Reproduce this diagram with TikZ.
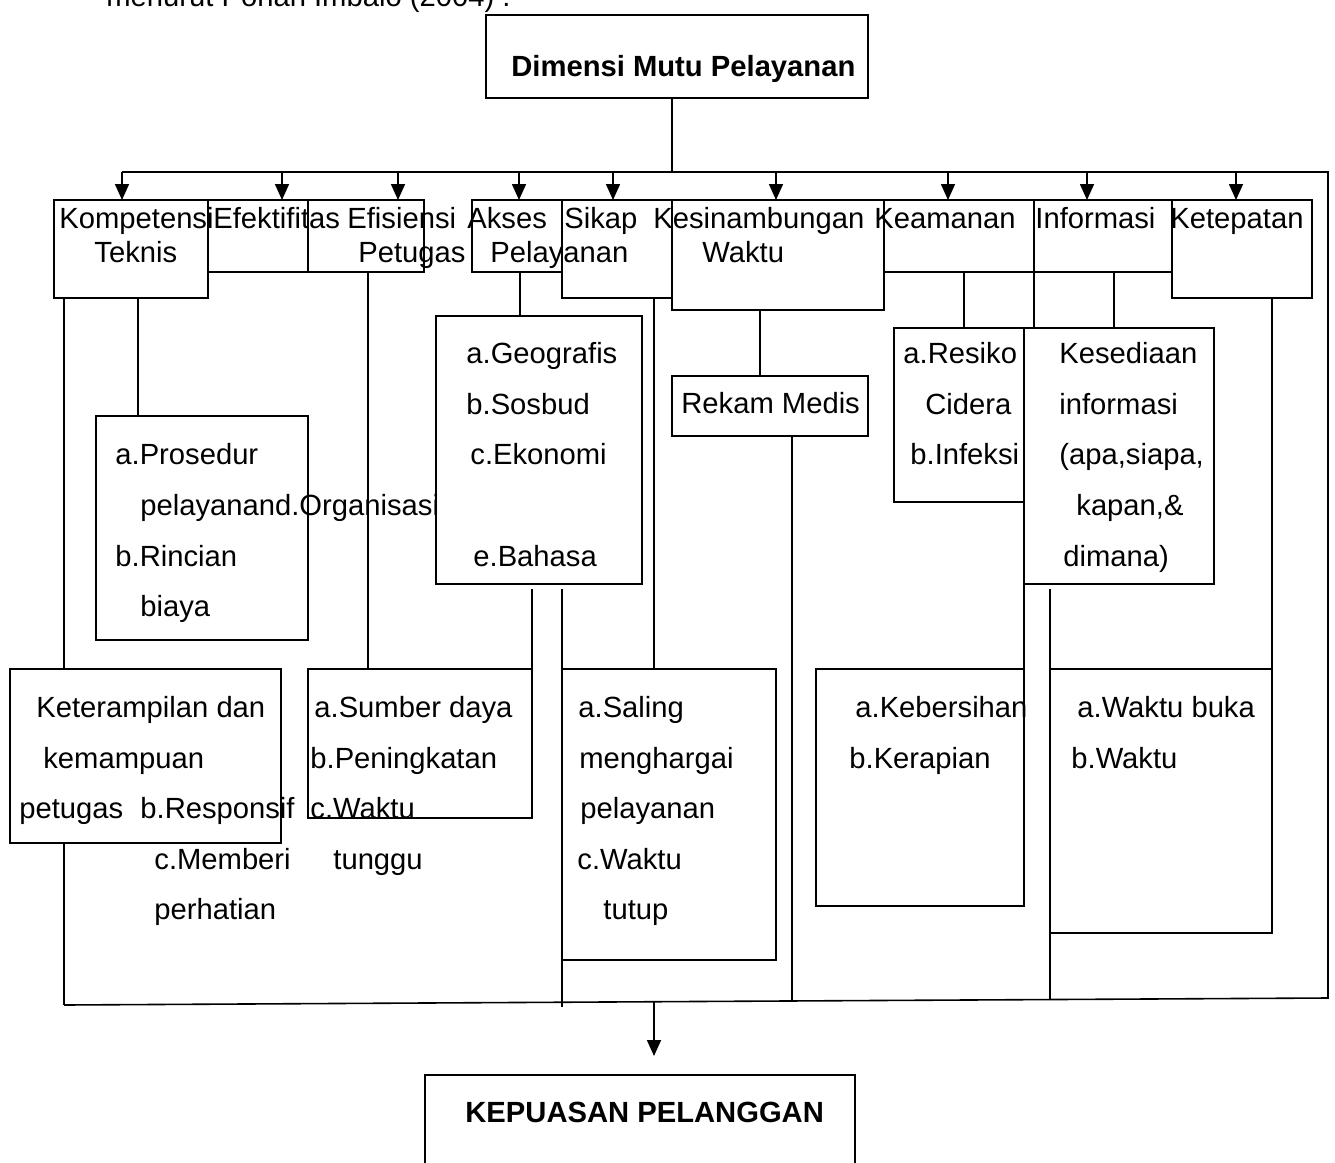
\documentclass[tikz,border=0pt]{standalone}
\usepackage{fontspec}
\setmainfont{Liberation Sans}
\usetikzlibrary{arrows.meta}
\usetikzlibrary{fit}
\tikzset{%
  mybox/.style={draw=black, line width=1pt, inner sep=0pt, outer sep=0pt},
  myedge/.style={->, line width=0.8pt, >={Triangle[length=8pt, width=7pt]}},
  myline/.style={line width=0.8pt},
  mytext/.style={inner sep=0pt, anchor=base west, font=\fontsize{14.6}{17}\selectfont},
  mybold/.style={mytext, font=\fontsize{14.6}{17}\selectfont\bfseries}
}

\begin{document}
\begin{tikzpicture}[x=0.5pt, y=-0.5pt]
\useasboundingbox (0,0) rectangle (1335,1163);

% kotak
\node [mybox, fit={(486,15) (868,98)}] (dimensi) {};
\node [mybox, fit={(54,200) (208,298)}] (kom) {};
\node [mybox, fit={(208,200) (308,272)}] (efek) {};
\node [mybox, fit={(308,200) (424,272)}] (efis) {};
\node [mybox, fit={(472,200) (562,272)}] (akses) {};
\node [mybox, fit={(562,200) (672,298)}] (sikap) {};
\node [mybox, fit={(672,200) (884,310)}] (kesi) {};
\node [mybox, fit={(884,200) (1034,272)}] (keam) {};
\node [mybox, fit={(1034,200) (1172,272)}] (info) {};
\node [mybox, fit={(1172,200) (1312,298)}] (kete) {};

\node [mybox, fit={(96,416) (308,640)}] (proc) {};
\node [mybox, fit={(436,316) (642,584)}] (geo) {};
\node [mybox, fit={(672,376) (868,436)}] (rekam) {};
\node [mybox, fit={(894,328) (1024,502)}] (resiko) {};
\node [mybox, fit={(1024,328) (1214,584)}] (sedia) {};

\node [mybox, fit={(10,669) (281,843)}] (ketr) {};
\node [mybox, fit={(308,669) (532,818)}] (sumber) {};
\node [mybox, fit={(562,669) (776,960)}] (saling) {};
\node [mybox, fit={(816,669) (1024,906)}] (bersih) {};
\node [mybox, fit={(1050,669) (1272,933)}] (buka) {};

\node [mybox, fit={(425,1075) (855,1180)}] (puas) {};

% garis
\coordinate (busL) at (122,172);
\coordinate (busR) at (1328,172);
\coordinate (botL) at (64,1005);
\coordinate (botR) at (1328,998);

\draw [myline] (dimensi.south -| 672,0) -- (busL -| 672,0);
\draw [myline] (busL) -- (busR) -- (botR) -- (botL);

\foreach \x/\b in {122/kom, 282/efek, 398/efis, 519/akses, 613/sikap, 776/kesi, 948/keam, 1087/info, 1236/kete} {
  \draw [myedge] (\x,172) -- (\x,172 |- \b.north);
}

\draw [myline] (kom.south -| 64,0) -- (ketr.north -| 64,0);
\draw [myline] (ketr.south -| 64,0) -- (botL);
\draw [myline] (kom.south -| 138,0) -- (proc.north -| 138,0);
\draw [myline] (efis.south -| 368,0) -- (sumber.north -| 368,0);
\draw [myline] (akses.south -| 520,0) -- (geo.north -| 520,0);
\draw [myline] (sikap.south -| 654,0) -- (saling.north -| 654,0);
\draw [myline] (kesi.south -| 760,0) -- (rekam.north -| 760,0);
\draw [myline] (keam.south -| 964,0) -- (resiko.north -| 964,0);
\draw [myline] (info.south -| 1034,0) -- (sedia.north -| 1034,0);
\draw [myline] (info.south -| 1114,0) -- (sedia.north -| 1114,0);
\draw [myline] (kete.south -| 1272,0) -- (buka.north -| 1272,0);

\draw [myline] (532,589) -- (sumber.north east);
\draw [myline] (562,589) -- (562,1007);
\draw [myline] (rekam.south -| 792,0) -- (792,1000);
\draw [myline] (sedia.south west) -- (bersih.north east);
\draw [myline] (1050,589) -- (1050,1000);

\draw [myedge] (654,1001) -- (654,1056);

% teks
\node [mytext] (capT) at (106,6) {menurut Pohan Imbalo (2004) .};
\node [mybold] (dimT) at (511,76) {Dimensi Mutu Pelayanan};
\node [mybold] (puasT) at (465,1122) {KEPUASAN PELANGGAN};

\foreach \nm/\x/\y/\t in {komA/59/228/Kompetensi, komB/94/262/Teknis,
    efekA/213/228/Efektifitas, efisA/347/228/Efisiensi, efisB/358/262/Petugas,
    aksA/467/228/Akses, aksB/490/262/Pelayanan, sikA/564/228/Sikap,
    kesA/653/228/Kesinambungan, kesB/702/262/Waktu,
    keaA/874/228/Keamanan, infA/1035/228/Informasi, ketA/1170/228/Ketepatan} {
  \node [mytext] (\nm) at (\x,\y) {\t};
}

\foreach \nm/\x/\y/\t in {procA/115/464/a.Prosedur, procB/140/515/pelayanand.Organisasi,
    procC/115/566/b.Rincian, procD/140/616/biaya,
    geoA/466/363/a.Geografis, geoB/466/414/b.Sosbud, geoC/470/464/c.Ekonomi, geoD/473/566/e.Bahasa,
    rekA/681/413/Rekam Medis,
    resA/903/363/a.Resiko, resB/925/414/Cidera, resC/910/464/b.Infeksi,
    sedA/1059/363/Kesediaan, sedB/1059/414/informasi, sedC/1059/464/{(apa,siapa,},
    sedD/1076/515/{kapan,\&}, sedE/1063/566/dimana)} {
  \node [mytext] (\nm) at (\x,\y) {\t};
}

\foreach \nm/\x/\y/\t in {ketrA/36/717/Keterampilan dan, ketrB/43/768/kemampuan, ketrC/19/818/petugas,
    resp/140/818/b.Responsif, respB/154/869/c.Memberi, respC/154/919/perhatian,
    sumA/314/717/a.Sumber daya, sumB/310/768/b.Peningkatan, sumC/310/818/c.Waktu, sumD/333/869/tunggu,
    salA/578/717/a.Saling, salB/579/768/menghargai, salC/580/818/pelayanan,
    salD/577/869/c.Waktu, salE/603/919/tutup,
    berA/855/717/a.Kebersihan, berB/849/768/b.Kerapian,
    bukA/1077/717/a.Waktu buka, bukB/1071/768/b.Waktu} {
  \node [mytext] (\nm) at (\x,\y) {\t};
}
\end{tikzpicture}
\end{document}
